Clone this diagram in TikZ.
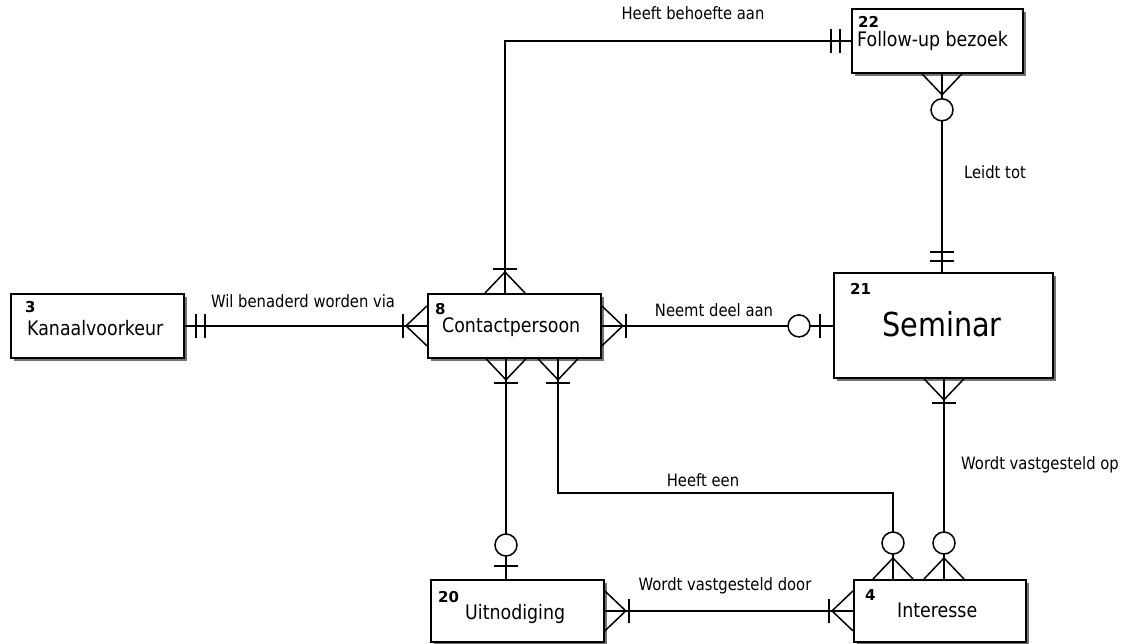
\documentclass[tikz,border=0pt]{standalone}
\usepackage{fontspec}
\setmainfont[FakeStretch=0.87]{DejaVu Sans}
\newfontfamily\numfont{DejaVu Sans}
\usetikzlibrary{shadows}

\begin{document}
\begin{tikzpicture}[x=1pt,y=-1pt,
  entity/.style={draw, line width=1.8pt, fill=white, inner sep=0pt, anchor=north west,
    drop shadow={shadow xshift=3pt, shadow yshift=-3pt, fill=black!55, opacity=1}},
  ename/.style={inner sep=0pt, anchor=base west, font=\fontsize{20}{24}\selectfont},
  bigname/.style={inner sep=0pt, anchor=base west, font=\fontsize{33}{38}\selectfont},
  enum/.style={inner sep=0pt, anchor=base west, font=\numfont\bfseries\fontsize{15}{17}\selectfont},
  lbl/.style={inner sep=0pt, anchor=base, font=\fontsize{17}{20}\selectfont},
  rel/.style={line width=1.3pt},
  mk/.style={line width=1.5pt},
  manyone/.pic={\draw[mk] (0,-20) -- (21,0) -- (0,20); \draw[mk] (24,-12) -- (24,12);},
  manyzero/.pic={\draw[mk] (0,-20) -- (21,0) -- (0,20); \draw[mk, fill=white] (36,0) circle[radius=11];},
  onezero/.pic={\draw[mk] (13,-12) -- (13,12); \draw[mk, fill=white] (34,0) circle[radius=11];},
  oneone/.pic={\draw[mk] (11,-12) -- (11,12); \draw[mk] (20,-12) -- (20,12);}
]
\fill[white] (0,0) rectangle (1130,644);
\useasboundingbox (0,0) rectangle (1130,644);

% entities
\node[entity, minimum width=173pt, minimum height=64pt] (kan) at (10,293) {};
\node[entity, minimum width=173pt, minimum height=64pt] (con) at (427,293) {};
\node[entity, minimum width=171pt, minimum height=64pt] (fol) at (851,8) {};
\node[entity, minimum width=219pt, minimum height=105pt] (sem) at (833,272) {};
\node[entity, minimum width=173pt, minimum height=62pt] (uit) at (430,579) {};
\node[entity, minimum width=172pt, minimum height=62pt] (int) at (853,579) {};

\node[enum] (kanNr) at (25,313) {3};
\node[ename] (kanNm) at (27,335) {Kanaalvoorkeur};
\node[enum] (conNr) at (435,315) {8};
\node[ename] (conNm) at (442,333) {Contactpersoon};
\node[enum] (folNr) at (858,28) {22};
\node[ename] (folNm) at (857,47) {Follow-up bezoek};
\node[enum] (semNr) at (850,295) {21};
\node[bigname] (semNm) at (882,337) {Seminar};
\node[enum] (uitNr) at (438,602) {20};
\node[ename] (uitNm) at (465,619) {Uitnodiging};
\node[enum] (intNr) at (865,600) {4};
\node[ename] (intNm) at (897,617) {Interesse};

% relationships
\draw[rel] (kan.east) -- (con.west);
\draw[rel] (con.east) -- (con.east -| sem.west);
\draw[rel] ([xshift=78pt]con.north west) |- (fol.west);
\draw[rel] (fol.south -| 942,0) -- (sem.north -| 942,0);
\draw[rel] (con.south -| 506,0) -- (uit.north -| 506,0);
\draw[rel] (con.south -| 558,0) |- (893,493) -- (int.north -| 893,0);
\draw[rel] (sem.south -| 944,0) -- (int.north -| 944,0);
\draw[rel] (uit.east) -- (uit.east -| int.west);

% cardinality markers
\pic at (kan.east) {oneone};
\pic[rotate=180] at (con.west) {manyone};
\pic at (con.east) {manyone};
\pic[rotate=180] at (con.east -| sem.west) {onezero};
\pic[rotate=90] at ([xshift=78pt]con.north west) {manyone};
\pic[rotate=180] at (fol.west) {oneone};
\pic[rotate=-90] at (fol.south -| 942,0) {manyzero};
\pic[rotate=90] at (sem.north -| 942,0) {oneone};
\pic[rotate=-90] at (con.south -| 506,0) {manyone};
\pic[rotate=90] at (uit.north -| 506,0) {onezero};
\pic[rotate=-90] at (con.south -| 558,0) {manyone};
\pic[rotate=90] at (int.north -| 893,0) {manyzero};
\pic[rotate=-90] at (sem.south -| 944,0) {manyone};
\pic[rotate=90] at (int.north -| 944,0) {manyzero};
\pic at (uit.east) {manyone};
\pic[rotate=180] at (uit.east -| int.west) {manyone};

% relationship labels
\node[lbl] (lFol) at (693,20) {Heeft behoefte aan};
\node[lbl] (lKan) at (303,308) {Wil benaderd worden via};
\node[lbl] (lSem) at (714,317) {Neemt deel aan};
\node[lbl] (lLei) at (995,179) {Leidt tot};
\node[lbl] (lHee) at (703,486) {Heeft een};
\node[lbl] (lOp) at (1040,469) {Wordt vastgesteld op};
\node[lbl] (lDoor) at (725,590) {Wordt vastgesteld door};
\end{tikzpicture}
\end{document}
